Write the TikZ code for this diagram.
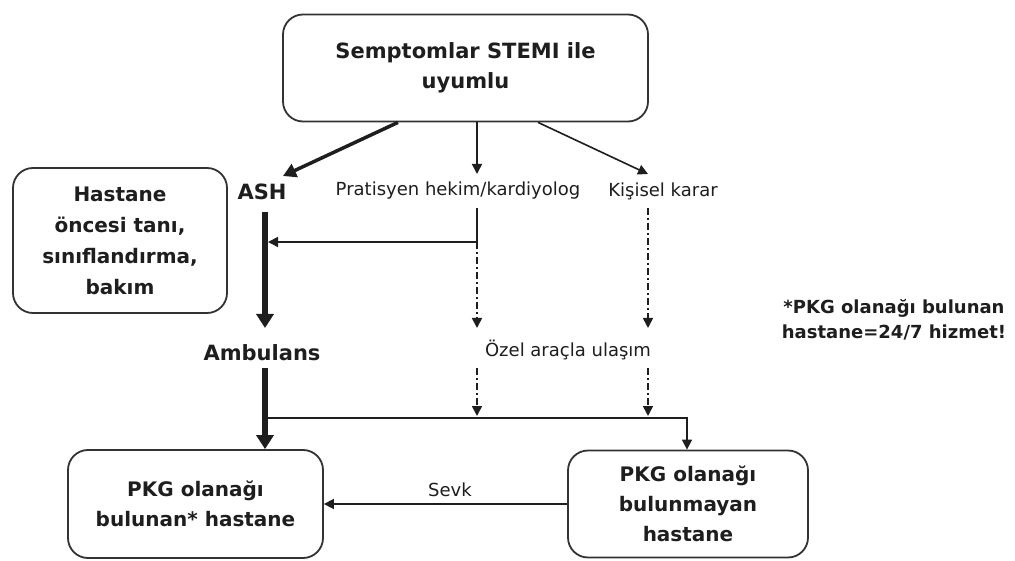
\documentclass[tikz,border=0pt]{standalone}
\usepackage{fontspec}
\setmainfont{DejaVu Sans}
\usetikzlibrary{arrows.meta}
\definecolor{ink}{HTML}{1E1E1E}
\definecolor{frame}{HTML}{333333}
\begin{document}
\begin{tikzpicture}[x=1pt,y=-1pt,
  box/.style={draw=frame, line width=1.8pt, rounded corners=20pt, align=center, inner sep=0pt, text=ink, font=\bfseries\fontsize{20}{30}\selectfont},
  lbl/.style={inner sep=0pt, text=ink, font=\fontsize{18}{22}\selectfont},
  blbl/.style={inner sep=0pt, text=ink, font=\bfseries\fontsize{21}{25}\selectfont},
  conn/.style={draw=ink, line width=1.6pt, -{Triangle[length=10pt,width=10pt]}},
  plain/.style={draw=ink, line width=1.6pt},
  thickconn/.style={draw=ink, line width=5.5pt, -{Triangle[length=14pt,width=17pt]}},
  dd/.style={dash pattern=on 7pt off 3pt on 2pt off 3pt},
]
\useasboundingbox (0,0) rectangle (1015,561);
\fill[white] (0,0) rectangle (1015,561);

% nodes
\node[box, minimum width=365pt, minimum height=107pt, font=\bfseries\fontsize{21}{30}\selectfont] (top) at (465.5,68) {Semptomlar STEMI ile\\uyumlu};
\node[blbl] (ash) at (262,192) {ASH};
\node[lbl] (prat) at (458,191) {Pratisyen hekim/kardiyolog};
\node[lbl] (kis) at (663,191) {Kişisel karar};
\node[box, minimum width=214pt, minimum height=145pt, font=\bfseries\fontsize{20}{31}\selectfont] (hos) at (120,240.5) {Hastane\\öncesi tanı,\\sınıflandırma,\\bakım};
\node[blbl] (amb) at (262,353) {Ambulans};
\node[lbl] (ozel) at (568,350) {Özel araçla ulaşım};
\node[box, minimum width=255pt, minimum height=108pt] (pkg) at (195.5,504) {PKG olanağı\\bulunan* hastane};
\node[box, minimum width=240pt, minimum height=107pt] (nopkg) at (688,504) {PKG olanağı\\bulunmayan\\hastane};
\node[lbl] (sevk) at (450,490) {Sevk};
\node[align=center, inner sep=0pt, text=ink, font=\bfseries\fontsize{18}{25}\selectfont] (note) at (894,320) {*PKG olanağı bulunan\\hastane=24/7 hizmet!};

% coordinates
\coordinate (ashin) at (283,176);
\coordinate (pratin) at (477,174);
\coordinate (kisin) at (648,174);
\coordinate (a1) at (265,212);
\coordinate (a2) at (265,328);
\coordinate (a3) at (268,242);
\coordinate (p1) at (477,208);
\coordinate (p2) at (477,242);
\coordinate (p3) at (477,328);
\coordinate (k1) at (648,208);
\coordinate (k2) at (648,328);
\coordinate (p4) at (477,368);
\coordinate (p5) at (477,416);
\coordinate (k3) at (648,368);
\coordinate (k4) at (648,416);
\coordinate (a4) at (265,368);
\coordinate (h1) at (265,418);
\coordinate (h2) at (687,418);

% connectors
\draw[conn, line width=3.5pt, -{Triangle[length=13pt,width=14pt]}] ([xshift=-67.5pt]top.south) -- (ashin);
\draw[conn] ([xshift=11.5pt]top.south) -- (pratin);
\draw[conn] ([xshift=72.5pt]top.south) -- (kisin);
\draw[thickconn] (a1) -- (a2);
\draw[plain] (p1) -- (p2);
\draw[conn] (p2) -- (a3);
\draw[conn, dd] (p2) -- (p3);
\draw[conn, dd] (k1) -- (k2);
\draw[conn, dd] (p4) -- (p5);
\draw[conn, dd] (k3) -- (k4);
\draw[thickconn] (a4) -- (a4 |- pkg.north);
\draw[conn] (h1) -- (h2) -- (h2 |- nopkg.north);
\draw[conn] (nopkg.west) -- (nopkg.west -| pkg.east);
\end{tikzpicture}
\end{document}
